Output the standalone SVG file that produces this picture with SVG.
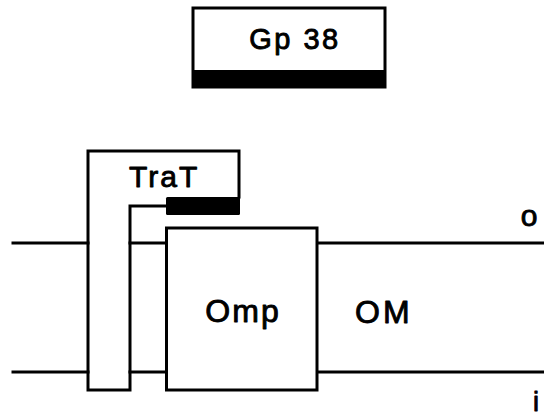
<svg xmlns="http://www.w3.org/2000/svg" width="544" height="416" viewBox="0 0 544 416">
  <style>
    .ln { fill: none; stroke: #000; stroke-width: 3; stroke-linejoin: miter; stroke-linecap: square; }
    .box { fill: #fff; stroke: #000; stroke-width: 3; }
    .solid { fill: #000; }
    .lbl { font-family: "Liberation Sans", "DejaVu Sans", sans-serif; fill: #000; stroke: #000; stroke-width: 0.9; stroke-linejoin: round; }
  </style>
  <rect width="544" height="416" fill="#fff"/>

  <!-- Gp 38 box with dark base band -->
  <g id="gp38">
    <rect class="box" x="193" y="8" width="192" height="79"/>
    <rect class="solid" x="193" y="70" width="193" height="18"/>
    <text class="lbl" x="295" y="49" font-size="29" letter-spacing="2.5" text-anchor="middle">Gp 38</text>
  </g>

  <!-- outer membrane bilayer edges -->
  <g id="membrane">
    <path class="ln" d="M13,243 H88 M130,243 H166 M317,243 H543"/>
    <path class="ln" d="M13,372 H88 M130,372 H166 M317,372 H543"/>
    <text class="lbl" x="355" y="323" font-size="32" letter-spacing="3">OM</text>
    <text class="lbl" x="529" y="226" font-size="30" text-anchor="middle">o</text>
    <text class="lbl" x="536" y="411" font-size="27" text-anchor="middle">i</text>
  </g>

  <!-- TraT: hooked strand through the membrane -->
  <g id="trat">
    <path class="ln" d="M239,197 V151 H88 V390 H130 V206 H166"/>
    <rect class="solid" x="166" y="197" width="74" height="18" rx="1.5"/>
    <text class="lbl" x="129" y="187" font-size="30" letter-spacing="2">TraT</text>
  </g>

  <!-- Omp block -->
  <g id="omp">
    <rect class="box" x="166.5" y="228" width="150.5" height="162"/>
    <text class="lbl" x="243" y="322" font-size="32" letter-spacing="2" text-anchor="middle">Omp</text>
  </g>

  <g id="connectors"/>
</svg>
